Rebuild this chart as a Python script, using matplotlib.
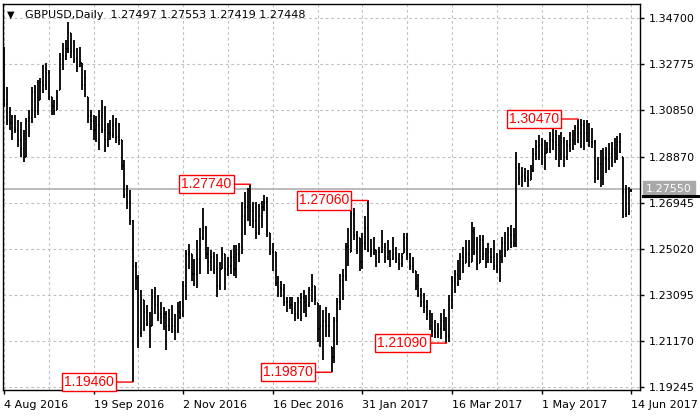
import matplotlib
matplotlib.use("Agg")
import matplotlib.pyplot as plt
from matplotlib.collections import LineCollection
from matplotlib.lines import Line2D
import numpy as np
import pandas as pd

# GBPUSD daily bars, 4 Aug 2016 .. 14 Jun 2017 (one per weekday)
dates = pd.bdate_range("2016-08-04", "2017-06-14")

highs = [
    1.3348, 1.3181, 1.3097, 1.3064, 1.3064, 1.3043, 1.3035, 1.3001, 1.3051, 1.3085,
    1.3181, 1.3189, 1.3210, 1.3219, 1.3273, 1.3281, 1.3252, 1.3140, 1.3127, 1.3168,
    1.3323, 1.3365, 1.3378, 1.3453, 1.3407, 1.3378, 1.3344, 1.3348, 1.3281, 1.3252,
    1.3140, 1.3085, 1.3064, 1.3060, 1.3085, 1.3127, 1.3100, 1.3030, 1.3043, 1.3064,
    1.3051, 1.3030, 1.2959, 1.2875, 1.2771, 1.2750, 1.2624, 1.2448, 1.2395, 1.2330,
    1.2290, 1.2270, 1.2240, 1.2335, 1.2345, 1.2310, 1.2280, 1.2260, 1.2245, 1.2250,
    1.2270, 1.2230, 1.2280, 1.2285, 1.2370, 1.2500, 1.2525, 1.2480, 1.2460, 1.2540,
    1.2590, 1.2675, 1.2600, 1.2510, 1.2500, 1.2490, 1.2480, 1.2450, 1.2510, 1.2480,
    1.2470, 1.2500, 1.2520, 1.2520, 1.2530, 1.2700, 1.2742, 1.2758, 1.2774, 1.2700,
    1.2700, 1.2690, 1.2705, 1.2729, 1.2720, 1.2570, 1.2530, 1.2490, 1.2390, 1.2370,
    1.2355, 1.2300, 1.2300, 1.2300, 1.2280, 1.2300, 1.2320, 1.2331, 1.2310, 1.2344,
    1.2400, 1.2350, 1.2277, 1.2269, 1.2248, 1.2260, 1.2235, 1.2093, 1.2218, 1.2298,
    1.2400, 1.2420, 1.2530, 1.2590, 1.2687, 1.2675, 1.2580, 1.2550, 1.2570, 1.2640,
    1.2706, 1.2545, 1.2553, 1.2499, 1.2511, 1.2582, 1.2528, 1.2541, 1.2499, 1.2553,
    1.2511, 1.2486, 1.2486, 1.2570, 1.2570, 1.2486, 1.2470, 1.2410, 1.2400, 1.2340,
    1.2318, 1.2290, 1.2248, 1.2235, 1.2206, 1.2193, 1.2235, 1.2250, 1.2220, 1.2310,
    1.2390, 1.2415, 1.2457, 1.2486, 1.2511, 1.2541, 1.2541, 1.2616, 1.2595, 1.2553,
    1.2562, 1.2562, 1.2507, 1.2528, 1.2507, 1.2541, 1.2486, 1.2499, 1.2553, 1.2574,
    1.2595, 1.2603, 1.2590, 1.2909, 1.2863, 1.2846, 1.2842, 1.2834, 1.2854, 1.2926,
    1.2959, 1.2980, 1.2968, 1.2959, 1.2950, 1.2993, 1.3010, 1.3001, 1.2980, 1.2993,
    1.2972, 1.2959, 1.2993, 1.3001, 1.3022, 1.3047, 1.3045, 1.3043, 1.3043, 1.3030,
    1.3010, 1.2959, 1.2888, 1.2917, 1.2926, 1.2930, 1.2947, 1.2951, 1.2968, 1.2976,
    1.2988, 1.2888, 1.2771, 1.2762, 1.27553,
]

lows = [
    1.3097, 1.3022, 1.3001, 1.2959, 1.2989, 1.2930, 1.2888, 1.2867, 1.2888, 1.2972,
    1.3030, 1.3051, 1.3064, 1.3127, 1.3156, 1.3168, 1.3127, 1.3064, 1.3064, 1.3085,
    1.3168, 1.3252, 1.3294, 1.3323, 1.3302, 1.3281, 1.3244, 1.3264, 1.3168, 1.3140,
    1.3030, 1.3001, 1.2959, 1.2950, 1.2917, 1.2990, 1.2910, 1.2930, 1.2959, 1.2968,
    1.2945, 1.2938, 1.2834, 1.2716, 1.2670, 1.2603, 1.1946, 1.2330, 1.2090, 1.2135,
    1.2160, 1.2180, 1.2090, 1.2180, 1.2230, 1.2200, 1.2190, 1.2165, 1.2080, 1.2160,
    1.2150, 1.2120, 1.2150, 1.2210, 1.2220, 1.2290, 1.2420, 1.2370, 1.2350, 1.2340,
    1.2400, 1.2540, 1.2460, 1.2400, 1.2410, 1.2400, 1.2300, 1.2330, 1.2420, 1.2330,
    1.2390, 1.2400, 1.2390, 1.2380, 1.2450, 1.2480, 1.2560, 1.2620, 1.2600, 1.2590,
    1.2545, 1.2560, 1.2590, 1.2660, 1.2555, 1.2478, 1.2410, 1.2350, 1.2300, 1.2300,
    1.2265, 1.2240, 1.2250, 1.2230, 1.2200, 1.2210, 1.2200, 1.2235, 1.2218, 1.2260,
    1.2280, 1.2270, 1.2114, 1.2093, 1.2038, 1.2135, 1.2135, 1.1987, 1.2026, 1.2101,
    1.2248, 1.2290, 1.2370, 1.2430, 1.2490, 1.2541, 1.2480, 1.2410, 1.2420, 1.2500,
    1.2490, 1.2470, 1.2478, 1.2428, 1.2445, 1.2486, 1.2445, 1.2457, 1.2428, 1.2457,
    1.2445, 1.2415, 1.2428, 1.2486, 1.2457, 1.2415, 1.2403, 1.2330, 1.2300, 1.2260,
    1.2235, 1.2206, 1.2164, 1.2135, 1.2131, 1.2131, 1.2125, 1.2160, 1.2109, 1.2115,
    1.2250, 1.2320, 1.2350, 1.2373, 1.2403, 1.2445, 1.2428, 1.2450, 1.2478, 1.2415,
    1.2445, 1.2457, 1.2424, 1.2445, 1.2445, 1.2415, 1.2403, 1.2365, 1.2445, 1.2470,
    1.2499, 1.2507, 1.2511, 1.2511, 1.2771, 1.2762, 1.2783, 1.2762, 1.2792, 1.2825,
    1.2875, 1.2875, 1.2854, 1.2834, 1.2905, 1.2905, 1.2917, 1.2875, 1.2846, 1.2875,
    1.2846, 1.2875, 1.2909, 1.2917, 1.2938, 1.2947, 1.2926, 1.2917, 1.2951, 1.2930,
    1.2926, 1.2779, 1.2792, 1.2762, 1.2771, 1.2821, 1.2834, 1.2846, 1.2863, 1.2875,
    1.2905, 1.2633, 1.2637, 1.2645, 1.27419,
]

closes = [
    1.3110, 1.3040, 1.3030, 1.3010, 1.3000, 1.2960, 1.2920, 1.2890, 1.3040, 1.3050,
    1.3160, 1.3080, 1.3110, 1.3200, 1.3190, 1.3240, 1.3140, 1.3100, 1.3080, 1.3140,
    1.3300, 1.3310, 1.3340, 1.3410, 1.3330, 1.3300, 1.3270, 1.3280, 1.3190, 1.3220,
    1.3060, 1.3040, 1.3000, 1.3020, 1.3060, 1.3000, 1.2960, 1.2990, 1.2980, 1.3020,
    1.2970, 1.2960, 1.2850, 1.2730, 1.2700, 1.2620, 1.2430, 1.2380, 1.2150, 1.2290,
    1.2240, 1.2190, 1.2180, 1.2300, 1.2270, 1.2230, 1.2220, 1.2230, 1.2180, 1.2210,
    1.2180, 1.2160, 1.2240, 1.2230, 1.2350, 1.2480, 1.2490, 1.2400, 1.2400, 1.2460,
    1.2550, 1.2590, 1.2480, 1.2450, 1.2470, 1.2420, 1.2350, 1.2420, 1.2480, 1.2420,
    1.2430, 1.2470, 1.2420, 1.2480, 1.2510, 1.2640, 1.2680, 1.2700, 1.2660, 1.2620,
    1.2570, 1.2640, 1.2680, 1.2700, 1.2580, 1.2490, 1.2490, 1.2360, 1.2340, 1.2330,
    1.2280, 1.2280, 1.2270, 1.2250, 1.2230, 1.2280, 1.2300, 1.2280, 1.2270, 1.2330,
    1.2350, 1.2290, 1.2170, 1.2180, 1.2200, 1.2180, 1.2160, 1.2050, 1.2200, 1.2280,
    1.2370, 1.2390, 1.2510, 1.2490, 1.2650, 1.2560, 1.2550, 1.2450, 1.2530, 1.2590,
    1.2500, 1.2490, 1.2500, 1.2450, 1.2490, 1.2510, 1.2470, 1.2490, 1.2460, 1.2480,
    1.2460, 1.2440, 1.2470, 1.2550, 1.2480, 1.2430, 1.2420, 1.2350, 1.2310, 1.2280,
    1.2260, 1.2230, 1.2180, 1.2160, 1.2150, 1.2170, 1.2200, 1.2170, 1.2140, 1.2290,
    1.2370, 1.2400, 1.2360, 1.2470, 1.2440, 1.2480, 1.2450, 1.2580, 1.2490, 1.2440,
    1.2540, 1.2480, 1.2450, 1.2490, 1.2470, 1.2430, 1.2420, 1.2470, 1.2530, 1.2500,
    1.2560, 1.2530, 1.2560, 1.2840, 1.2800, 1.2810, 1.2800, 1.2790, 1.2830, 1.2900,
    1.2930, 1.2940, 1.2900, 1.2880, 1.2920, 1.2960, 1.2950, 1.2940, 1.2900, 1.2950,
    1.2890, 1.2940, 1.2960, 1.2980, 1.3010, 1.2990, 1.3020, 1.2990, 1.2960, 1.2950,
    1.2950, 1.2800, 1.2860, 1.2800, 1.2880, 1.2880, 1.2900, 1.2920, 1.2940, 1.2950,
    1.2950, 1.2740, 1.2650, 1.27497, 1.27448,
]
first_open = 1.3330

# labelled swing highs / lows (bar index, price)
ext_idx = [46, 88, 117, 130, 158, 205]
ext_val = [1.19460, 1.27740, 1.19870, 1.27060, 1.21090, 1.30470]

y_ticks = [1.34700, 1.32775, 1.30850, 1.28870, 1.26945, 1.25020, 1.23095, 1.21170, 1.19245]
bid_price = 1.27550
header = "GBPUSD,Daily  1.27497 1.27553 1.27419 1.27448"

x = np.arange(len(highs))
hi = np.array(highs)
lo = np.array(lows)
cl = np.array(closes)
op = np.clip(np.r_[first_open, cl[:-1]], lo, hi)

fig = plt.figure(figsize=(7, 4.2), dpi=100)
ax = fig.add_axes([3 / 700, 30 / 420, 637 / 700, 386 / 420])

grid_kw = dict(color="#c0c0c0", lw=0.8, ls=(0, (2.5, 2.5)), zorder=0)
for v in y_ticks:
    ax.axhline(v, **grid_kw)
for i in range(0, len(x), 16):
    ax.axvline(i, **grid_kw)

ax.axhline(bid_price, color="#b0b0b0", lw=1.2, zorder=1)

segs = []
for i in x:
    segs.append([(i, lo[i]), (i, hi[i])])
    segs.append([(i - 0.35, op[i]), (i, op[i])])
    segs.append([(i, cl[i]), (i + 0.35, cl[i])])
ax.add_collection(LineCollection(segs, colors="black", linewidths=1.3, zorder=3))

for i, v in zip(ext_idx, ext_val):
    ax.annotate(f"{v:.5f}", xy=(i, v), xytext=(-44, 0), textcoords="offset pixels",
                ha="center", va="center", color="red", fontsize=10,
                family="Liberation Sans",
                bbox=dict(boxstyle="square,pad=0.15", fc="white", ec="red", lw=1),
                arrowprops=dict(arrowstyle="-", color="red", lw=1, shrinkA=0, shrinkB=0),
                zorder=5)

ax.set_xlim(-0.36, 227.1)
ax.set_ylim(1.19128, 1.35283)

ax.set_yticks(y_ticks)
ax.set_yticklabels([f"{v:.5f}" for v in y_ticks])
ax.yaxis.tick_right()
ax.tick_params(axis="y", length=3, pad=3, labelsize=8, width=1)

xt = list(range(0, len(x), 32))
ax.set_xticks(xt)
ax.set_xticklabels([f"{dates[i].day} {dates[i].strftime('%b %Y')}" for i in xt])
ax.tick_params(axis="x", length=3, pad=4, labelsize=8, width=1)
for lbl in ax.get_xticklabels():
    lbl.set_horizontalalignment("left")

for s in ax.spines.values():
    s.set_color("black")
    s.set_linewidth(1)

# current bid marker on the price scale
ax.annotate(f"{bid_price:.5f}", xy=(1, bid_price), xycoords=("axes fraction", "data"),
            xytext=(6, 0), textcoords="offset pixels", ha="left", va="center",
            color="white", fontsize=8,
            bbox=dict(boxstyle="square,pad=0.25", fc="#a8a8a8", ec="#a8a8a8"),
            annotation_clip=False, zorder=6)
fig.add_artist(Line2D([643 / 700, 1], [1 - 196 / 420, 1 - 196 / 420],
                      color="black", lw=2.2, transform=fig.transFigure))

fig.text(7 / 700, 1 - 15 / 420, "\u25bc", fontsize=7, va="center")
fig.text(25 / 700, 1 - 15 / 420, header, fontsize=8, va="center")

fig.savefig("out.png", dpi=100)
